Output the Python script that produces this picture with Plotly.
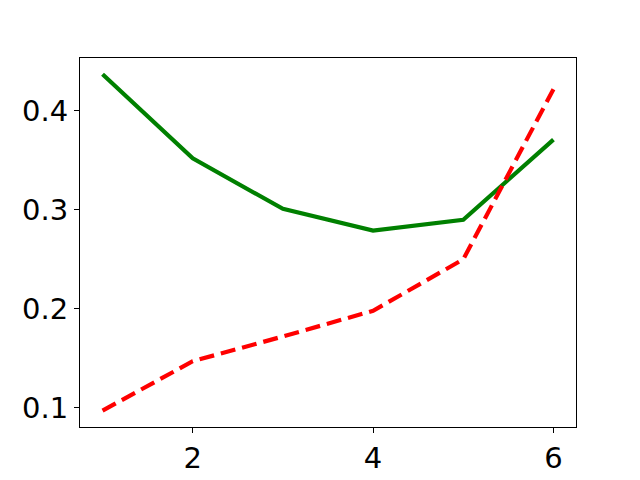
import plotly.graph_objects as go

x_vals = [1, 2, 3, 4, 5, 6]
green_vals = [0.437, 0.352, 0.301, 0.279, 0.290, 0.371]
red_vals = [0.097, 0.147, 0.172, 0.198, 0.250, 0.422]
x_ticks = [2, 4, 6]
y_ticks = [0.1, 0.2, 0.3, 0.4]
y_ticktext = ["0.1", "0.2", "0.3", "0.4"]

fig = go.Figure()
fig.add_trace(go.Scatter(x=x_vals, y=green_vals, mode="lines",
                         line=dict(color="green", width=4.2), showlegend=False))
fig.add_trace(go.Scatter(x=x_vals, y=red_vals, mode="lines",
                         line=dict(color="red", width=4.2, dash="15px,7px"), showlegend=False))

axis_common = dict(showgrid=False, zeroline=False, showline=True, linecolor="black",
                   linewidth=1, mirror=True, ticks="outside", ticklen=5, tickwidth=1,
                   tickcolor="black", automargin=False,
                   tickfont=dict(family="DejaVu Sans", size=29, color="black"))

fig.update_xaxes(range=[0.75, 6.25], tickvals=x_ticks, ticktext=[str(v) for v in x_ticks], **axis_common)
fig.update_yaxes(range=[0.0805, 0.4535], tickvals=y_ticks, ticktext=y_ticktext, **axis_common)

fig.update_layout(width=640, height=480, margin=dict(l=72, r=72, t=50, b=61, pad=0),
                  plot_bgcolor="white", paper_bgcolor="white")

fig.write_html("out.html")
